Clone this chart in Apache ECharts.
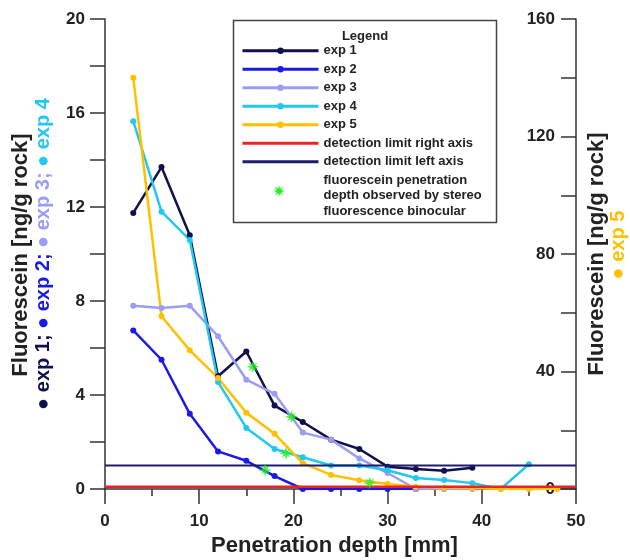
<!DOCTYPE html>
<html><head><meta charset="utf-8">
<script src="https://cdn.jsdelivr.net/npm/echarts@6/dist/echarts.min.js"></script>
<style>html,body{margin:0;padding:0;background:#fff}#c{width:630px;height:560px}</style>
</head><body><div id="c"></div>
<script>
// ---- data ----
const depth = [3,6,9,12,15,18,21,24,27,30,33,36,39,42,45,48];          // mm
const exp1 = [11.75,13.7,10.8,4.8,5.85,3.55,2.85,2.1,1.7,0.95,0.85,0.78,0.9];   // left axis
const exp2 = [6.75,5.5,3.2,1.6,1.2,0.55,0,0,0,0,0];                            // left axis
const exp3 = [7.8,7.7,7.8,6.5,4.65,4.05,2.4,2.1,1.3,0.68,0,0,0];               // left axis
const exp4 = [15.65,11.8,10.6,4.55,2.6,1.7,1.35,1.0,1.0,0.8,0.47,0.38,0.25,0,1.05]; // left axis
const exp5 = [140,58.8,47.2,37.8,26,18.8,8.8,4.8,3.0,1.7,0.8,0.4,0.3,0,0,0];    // right axis
const starDepth = [15.7,19.8,19.2,17.0,28.1];
const starValue = [5.2,3.07,1.52,0.8,0.26];
const limitLeftValue = 1.0;
const limitRightValue = 0.8;
const xExtent = [0,50];
const leftExtent = [0,20];
const rightExtent = [0,160];

const FONT = 'Liberation Sans, Arial, sans-serif';
const C = {e1:'#10104c', e2:'#1a1ae8', e3:'#9c9cf0', e4:'#22c8f0', e5:'#ffc000',
           red:'#e82424', navy:'#1c1c70', star:'#22ee22', axis:'#333', text:'#222'};
const pairs = (vals) => vals.map((v,i)=>[depth[i], v]);
const STAR = 'path://M10 0L12 6.3L17.07 2.93L13.7 8L20 10L13.7 12L17.07 17.07L12 13.7L10 20L8 13.7L2.93 17.07L6.3 12L0 10L6.3 8L2.93 2.93L8 6.3Z';
const LINE_ICON = 'path://M0 0H76V3H0Z';

// legend swatch star (not a data mark)
function starPoints(cx, cy, R, r){
  const pts = [];
  for (let i = 0; i < 16; i++) {
    const a = -Math.PI/2 + i*Math.PI/8, rad = (i % 2 === 0) ? R : r;
    pts.push([cx + rad*Math.cos(a), cy + rad*Math.sin(a)]);
  }
  return pts;
}

function expSeries(name, vals, color, yIdx){
  return {type:'line', name, data:pairs(vals), yAxisIndex:yIdx, symbol:'circle', symbolSize:6,
    lineStyle:{color, width:2.5}, itemStyle:{color}, animation:false, z:2};
}
const starName = 'fluorescein penetration\ndepth observed by stereo\nfluorescence binocular';
const axisLineStyle = {color:C.axis, width:1.5};

const option = {
  backgroundColor:'#fff',
  animation:false,
  grid:{left:105, right:54, top:19, bottom:71, outerBoundsMode:'none'},
  xAxis:{type:'value', min:xExtent[0], max:xExtent[1], interval:10,
    axisLine:{show:true, lineStyle:axisLineStyle},
    axisTick:{show:true, length:15, lineStyle:axisLineStyle},
    minorTick:{show:true, splitNumber:2, length:7, lineStyle:axisLineStyle},
    splitLine:{show:false}, minorSplitLine:{show:false},
    axisLabel:{margin:24, fontSize:17, fontWeight:'bold', color:C.text, fontFamily:FONT},
    name:'Penetration depth [mm]', nameLocation:'middle', nameGap:46,
    nameTextStyle:{fontSize:22, fontWeight:'bold', color:C.text, fontFamily:FONT, padding:[0,12,0,0]}},
  yAxis:[
    {type:'value', min:leftExtent[0], max:leftExtent[1], interval:2, position:'left',
      axisLine:{show:true, lineStyle:axisLineStyle},
      axisTick:{show:true, length:15, lineStyle:axisLineStyle},
      splitLine:{show:false},
      axisLabel:{margin:20, fontSize:17, fontWeight:'bold', color:C.text, fontFamily:FONT,
        formatter:v => (v % 4 === 0 ? String(v) : '')}},
    {type:'value', min:rightExtent[0], max:rightExtent[1], interval:20, position:'right',
      axisLine:{show:true, lineStyle:axisLineStyle},
      axisTick:{show:true, inside:true, length:15, lineStyle:axisLineStyle},
      splitLine:{show:false},
      axisLabel:{inside:true, margin:21, fontSize:17, fontWeight:'bold', color:C.text, fontFamily:FONT,
        formatter:v => (v % 40 === 0 ? String(v) : '')}}
  ],
  legend:{orient:'vertical', left:241, top:43, itemWidth:76, itemHeight:8, itemGap:3, padding:0,
    selectedMode:false, lineStyle:{width:3},
    textStyle:{fontFamily:FONT, fontWeight:'bold', fontSize:13, color:C.text, lineHeight:15.5},
    data:['exp 1','exp 2','exp 3','exp 4','exp 5',
      {name:'detection limit right axis', icon:LINE_ICON},
      {name:'detection limit left axis', icon:LINE_ICON},
      {name:starName, itemStyle:{opacity:0}}]},
  graphic:[
    {type:'rect', shape:{x:233.5, y:20.5, width:263, height:202}, style:{fill:'none', stroke:'#444', lineWidth:1.5}, z:1},
    {type:'text', x:365, y:36, style:{text:'Legend', font:'bold 13px '+FONT, fill:C.text, align:'center', verticalAlign:'middle', textAlign:'center', textVerticalAlign:'middle'}, z:5},
    {type:'polygon', shape:{points:starPoints(279, 191, 6, 2.4)}, style:{fill:C.star}, z:5},
    {type:'text', x:21, y:255, rotation:Math.PI/2,
      style:{text:'Fluorescein [ng/g rock]', font:'bold 22px '+FONT, fill:C.text, align:'center', verticalAlign:'middle', textAlign:'center', textVerticalAlign:'middle'}},
    {type:'text', x:43, y:254, rotation:Math.PI/2,
      style:{text:'{a|● exp 1;} {b|● exp 2;} {c|● exp 3;} {d|● exp 4}', font:'bold 20px '+FONT, fill:C.text,
        align:'center', verticalAlign:'middle', textAlign:'center', textVerticalAlign:'middle',
        rich:{a:{fill:C.e1,color:C.e1, font:'bold 20px '+FONT}, b:{fill:C.e2,color:C.e2, font:'bold 20px '+FONT},
              c:{fill:C.e3,color:C.e3, font:'bold 20px '+FONT}, d:{fill:C.e4,color:C.e4, font:'bold 20px '+FONT}}}},
    {type:'text', x:597, y:254, rotation:Math.PI/2,
      style:{text:'Fluorescein [ng/g rock]', font:'bold 22px '+FONT, fill:C.text, align:'center', verticalAlign:'middle', textAlign:'center', textVerticalAlign:'middle'}},
    {type:'text', x:618, y:245, rotation:Math.PI/2,
      style:{text:'● exp 5', font:'bold 20px '+FONT, fill:C.e5, align:'center', verticalAlign:'middle', textAlign:'center', textVerticalAlign:'middle'}}
  ],
  series:[
    expSeries('exp 1', exp1, C.e1, 0),
    expSeries('exp 2', exp2, C.e2, 0),
    expSeries('exp 3', exp3, C.e3, 0),
    expSeries('exp 4', exp4, C.e4, 0),
    expSeries('exp 5', exp5, C.e5, 1),
    {type:'line', name:'detection limit right axis', yAxisIndex:1, data:[[xExtent[0],limitRightValue],[xExtent[1],limitRightValue]],
      symbol:'none', lineStyle:{color:C.red, width:2.5}, itemStyle:{color:C.red}, z:3},
    {type:'line', name:'detection limit left axis', yAxisIndex:0, data:[[xExtent[0],limitLeftValue],[xExtent[1],limitLeftValue]],
      symbol:'none', lineStyle:{color:C.navy, width:2}, itemStyle:{color:C.navy}, z:3},
    {type:'scatter', name:starName, yAxisIndex:0, data:starDepth.map((d,i)=>[d, starValue[i]]),
      symbol:STAR, symbolSize:13, symbolKeepAspect:true, itemStyle:{color:C.star}, z:4}
  ]
};
const chart = echarts.init(document.getElementById('c'), null, {renderer:'canvas'});
chart.setOption(option);
</script></body></html>
